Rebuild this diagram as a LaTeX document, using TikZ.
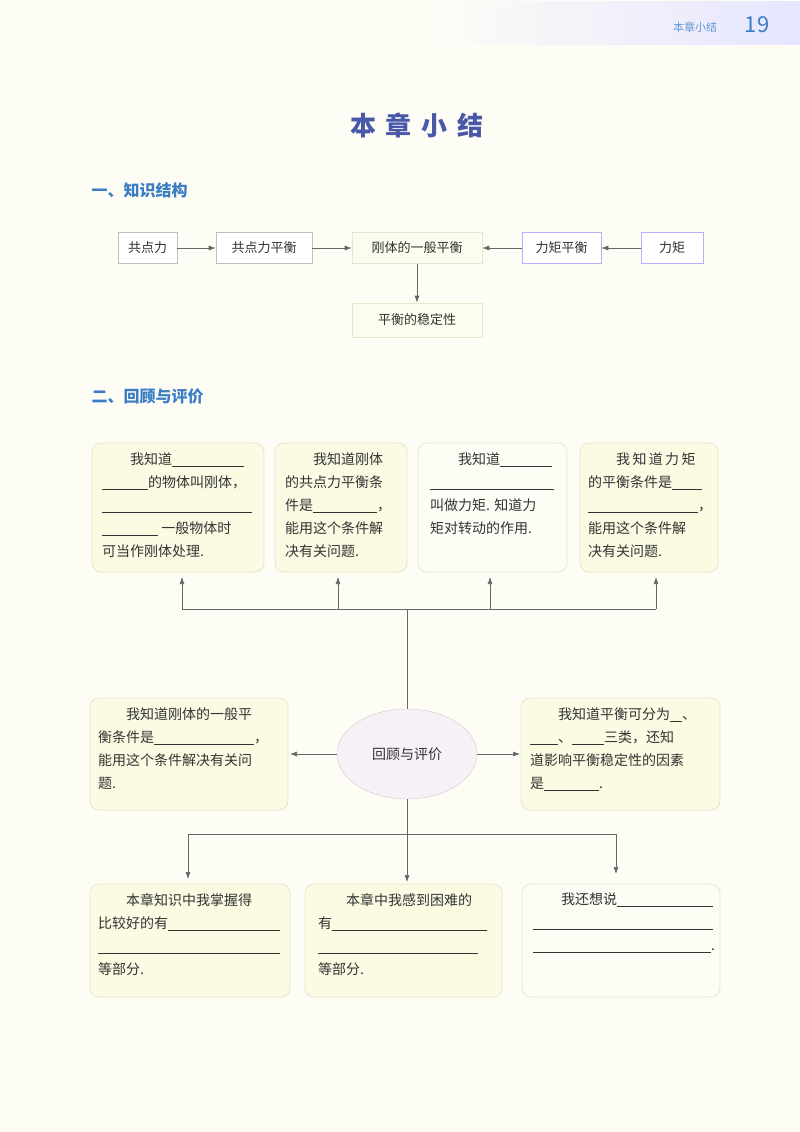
\documentclass[tikz,border=0pt]{standalone}
\usepackage{fontspec}
\setmainfont{Noto Sans CJK SC}
\usetikzlibrary{shapes.geometric,arrows.meta}
\definecolor{pagebg}{HTML}{FDFDF6}
\definecolor{boxfill}{HTML}{FBFBE4}
\definecolor{boxline}{HTML}{E6E6CC}
\definecolor{headblue}{HTML}{3A7DC4}
\definecolor{titleblue}{HTML}{4A58A8}
\definecolor{txt}{HTML}{333333}
\newcommand{\bl}[1]{\rule[-2pt]{#1pt}{0.5pt}}
\newcommand{\ind}{\hspace*{28pt}}
\begin{document}
\begin{tikzpicture}[x=1pt,y=-1pt,
  sbox/.style={draw=#1,fill=white,line width=0.6pt,minimum height=31pt,font=\fontsize{13}{15}\selectfont,text=txt,inner sep=3pt},
  sbox/.default={black!25},
  rbox/.style={draw=boxline,fill=boxfill,rounded corners=9pt,line width=0.8pt},
  btxt/.style={anchor=north west,align=left,inner sep=0pt,font=\fontsize{14}{23}\selectfont,text=txt},
  arr/.style={draw=black!60,line width=0.6pt,-{Latex[length=7pt,width=5pt]}},
  ln/.style={draw=black!60,line width=0.6pt}]
\fill[pagebg] (0,0) rectangle (800,1132);
\useasboundingbox (0,0) rectangle (800,1132);
\shade[left color=pagebg,right color=blue!10] (420,2) rectangle (800,45);
\node[font=\fontsize{11}{13}\selectfont,text=headblue!80] (hd) at (695,27) {本章小结};
\node[font=\fontsize{22}{24}\selectfont,text=headblue] (pg) at (757,25) {19};
\node[font=\fontsize{26}{28}\selectfont\bfseries,text=titleblue] (title) at (417,125) {本\hspace{10pt}章\hspace{10pt}小\hspace{10pt}结};
\node[anchor=west,font=\fontsize{16}{18}\selectfont\bfseries,text=headblue] (s1) at (88,190) {一、知识结构};
\node[anchor=west,font=\fontsize{16}{18}\selectfont\bfseries,text=headblue] (s2) at (88,396) {二、回顾与评价};
% structure
\node[sbox,minimum width=59pt] (a) at (147.5,248) {共点力};
\node[sbox,minimum width=96pt] (b) at (264,248) {共点力平衡};
\node[sbox=boxline,fill=boxfill!60,minimum width=130pt] (c) at (417,248) {刚体的一般平衡};
\node[sbox=blue!30,minimum width=79pt] (d) at (561.5,248) {力矩平衡};
\node[sbox=blue!30,minimum width=62pt] (e) at (672,248) {力矩};
\node[sbox=boxline,fill=boxfill!60,minimum width=130pt,minimum height=34pt] (f) at (417,320) {平衡的稳定性};
\draw[arr] (a) -- (b);
\draw[arr] (b) -- (c);
\draw[arr] (d) -- (c);
\draw[arr] (e) -- (d);
\draw[arr] (c) -- (f);
% top boxes
\draw[rbox] (92,443) rectangle (264,572);
\draw[rbox] (275,443) rectangle (407,572);
\draw[rbox,fill=pagebg] (418,443) rectangle (567,572);
\draw[rbox] (580,443) rectangle (718,572);
\node[btxt] (t1) at (102,452) {\ind 我知道\bl{72}\\ \bl{46}的物体叫刚体，\\ \bl{150}\\ \bl{56}\ 一般物体时\\ 可当作刚体处理.};
\node[btxt] (t2) at (285,452) {\ind 我知道刚体\\ 的共点力平衡条\\ 件是\bl{64}，\\ 能用这个条件解\\ 决有关问题.};
\node[btxt] (t3) at (430,452) {\ind 我知道\bl{52}\\ \bl{124}\\ 叫做力矩. 知道力\\ 矩对转动的作用.};
\node[btxt] (t4) at (588,452) {\ind 我\,知\,道\,力\,矩\\ 的平衡条件是\bl{30}\\ \bl{110}，\\ 能用这个条件解\\ 决有关问题.};
% middle
\node[ellipse,draw=black!20,fill=violet!6,minimum width=140pt,minimum height=90pt,font=\fontsize{14}{16}\selectfont,text=txt] (m) at (407,754) {回顾与评价};
\draw[rbox] (90,698) rectangle (288,810);
\draw[rbox] (521,698) rectangle (720,810);
\node[btxt] (l) at (98,707) {\ind 我知道刚体的一般平\\ 衡条件是\bl{100}，\\ 能用这个条件解决有关问\\ 题.};
\node[btxt] (r) at (530,707) {\ind 我知道平衡可分为\bl{12}、\\ \bl{28}、\bl{32}三类，还知\\ 道影响平衡稳定性的因素\\ 是\bl{55}.};
\coordinate (up) at (407,609);
\coordinate (u1) at (182,609);
\coordinate (u4) at (656,609);
\coordinate (u2) at (338,609);
\coordinate (u3) at (490,609);
\coordinate (lt) at (290,754);
\coordinate (rt) at (520,754);
\draw[ln] (m.north) -- (up);
\draw[ln] (u1) -- (u4);
\draw[arr] (u1) -- (182,577);
\draw[arr] (u2) -- (338,577);
\draw[arr] (u3) -- (490,577);
\draw[arr] (u4) -- (656,577);
\draw[arr] (m.west) -- (lt);
\draw[arr] (m.east) -- (rt);
\coordinate (dn) at (407,834);
\coordinate (d1) at (188,834);
\coordinate (d3) at (616,834);
\draw[ln] (m.south) -- (dn);
\draw[ln] (d1) -- (d3);
\draw[arr] (d1) -- (188,879);
\draw[arr] (dn) -- (407,882);
\draw[arr] (d3) -- (616,874);
% bottom boxes
\draw[rbox] (90,884) rectangle (290,997);
\draw[rbox] (305,884) rectangle (502,997);
\draw[rbox,fill=pagebg] (522,884) rectangle (720,997);
\node[btxt] (b1) at (98,893) {\ind 本章知识中我掌握得\\ 比较好的有\bl{112}\\ \bl{182}\\ 等部分.};
\node[btxt] (b2) at (318,893) {\ind 本章中我感到困难的\\ 有\bl{155}\\ \bl{160}\\ 等部分.};
\node[btxt] (b3) at (533,893) {\ind 我还想说\bl{96}\\ \bl{180}\\ \bl{178}.};
\end{tikzpicture}
\end{document}
